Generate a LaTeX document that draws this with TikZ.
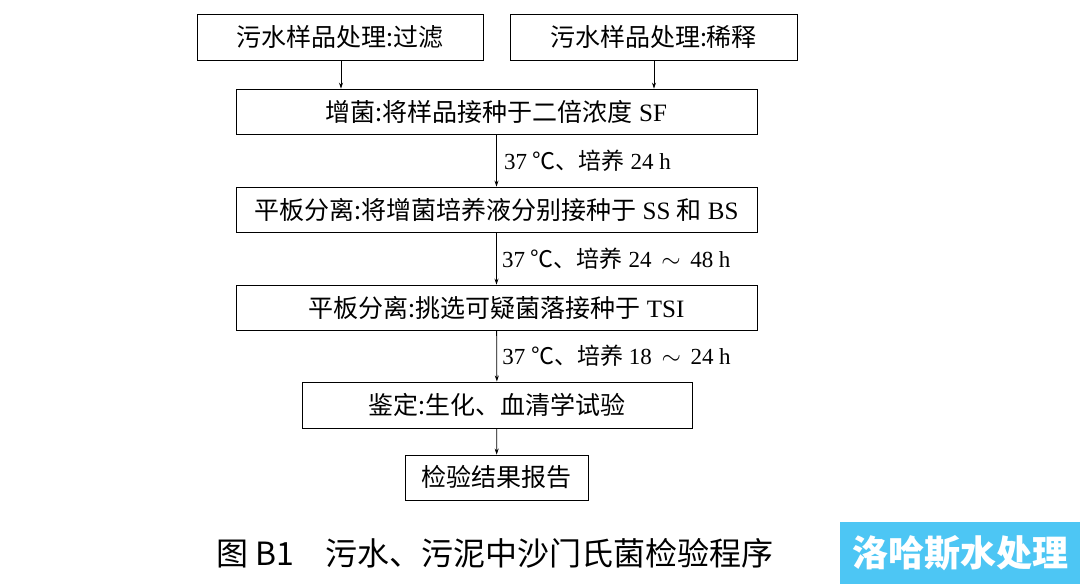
\documentclass[tikz,border=0pt]{standalone}
\usepackage{fontspec}
\setmainfont{Liberation Serif}
\newfontfamily\cjk{Noto Sans CJK SC}
\newcommand{\zh}[1]{{\cjk #1}}
\usetikzlibrary{arrows.meta}
\begin{document}
\begin{tikzpicture}[x=1pt,y=-1pt,
  bx/.style={draw,line width=0.9pt,inner sep=0pt,font=\fontsize{25}{28}\selectfont},
  ar/.style={line width=0.8pt,-{Stealth[length=6pt,width=4pt]}},
  lb/.style={anchor=west,font=\fontsize{23}{26}\selectfont}]
\useasboundingbox (0,0) rectangle (1080,584);
\node[bx,minimum width=286pt,minimum height=46pt] (a) at (340,37) {\zh{污水样品处理:过滤}};
\node[bx,minimum width=287pt,minimum height=46pt] (b) at (653.5,37) {\zh{污水样品处理:稀释}};
\node[bx,minimum width=521pt,minimum height=45pt] (c) at (496.5,111.5) {\zh{增菌:将样品接种于二倍浓度} SF};
\node[bx,minimum width=521pt,minimum height=45pt] (d) at (496.5,209.5) {\zh{平板分离:将增菌培养液分别接种于} SS \zh{和} BS};
\node[bx,minimum width=521pt,minimum height=45pt] (e) at (496.5,307.5) {\zh{平板分离:挑选可疑菌落接种于} TSI};
\node[bx,minimum width=390pt,minimum height=46pt] (f) at (497,405) {\zh{鉴定:生化、血清学试验}};
\node[bx,minimum width=183pt,minimum height=45pt] (g) at (496.5,477.5) {\zh{检验结果报告}};
\draw[ar] (a.south -| 341,0) -- (c.north -| 341,0);
\draw[ar] (b.south -| 654,0) -- (c.north -| 654,0);
\draw[ar] (c) -- (d) node[pos=0.5,lb,xshift=4pt] {37 \zh{℃、培养} 24 h};
\draw[ar] (d) -- (e) node[pos=0.5,lb,xshift=2pt] {37 \zh{℃、培养} 24 \,$\sim$\, 48 h};
\draw[ar] (e) -- (f) node[pos=0.5,lb,xshift=2pt] {37 \zh{℃、培养} 18 \,$\sim$\, 24 h};
\draw[ar] (f) -- (g);
\node[font=\cjk\fontsize{32}{36}\selectfont] (cap) at (495,553) {图 B1\quad 污水、污泥中沙门氏菌检验程序};
\fill[cyan!70!white] (840,522) rectangle (1080,584);
\node[font=\cjk\bfseries\fontsize{36}{40}\selectfont,text=white] (wm) at (960,553) {洛哈斯水处理};
\end{tikzpicture}
\end{document}
